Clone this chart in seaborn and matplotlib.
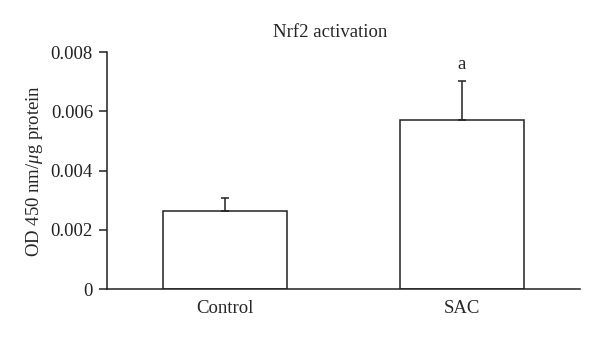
import pandas as pd
import seaborn as sns
import matplotlib.pyplot as plt

# values
groups = ['Control', 'SAC']
means = [0.00265, 0.00571]
sem = [0.00042, 0.00133]
marks = ['', 'a']

df = pd.DataFrame({'group': groups, 'od': means})

sns.set_style('ticks')
plt.rcParams['font.family'] = ['Liberation Serif', 'DejaVu Serif']
plt.rcParams['mathtext.fontset'] = 'custom'
plt.rcParams['mathtext.it'] = 'Liberation Serif:italic'
plt.rcParams['mathtext.rm'] = 'Liberation Serif'

fs = 13.5
fig = plt.figure(figsize=(6, 3.37), dpi=100)
ax = fig.add_axes([0.178, 0.142, 0.789, 0.703])

sns.barplot(data=df, x='group', y='od', color='white', edgecolor='#222222',
            linewidth=1.1, width=0.525, ax=ax)

# upper error bars only
ax.errorbar(range(len(groups)), means, yerr=[[0] * len(sem), sem], fmt='none',
            ecolor='#222222', elinewidth=1.1, capsize=2.8, capthick=1.1)

for i, (m, s, t) in enumerate(zip(means, sem, marks)):
    if t:
        ax.text(i, m + s + 0.00025, t, ha='center', va='bottom', fontsize=fs)

ax.set_xlim(-0.5, 1.5)
ax.set_ylim(0, 0.008)
ax.set_yticks([0, 0.002, 0.004, 0.006, 0.008])
ax.set_yticklabels(['0', '0.002', '0.004', '0.006', '0.008'])
ax.set_xlabel('')
ax.set_ylabel(r'OD 450 nm/$\mathit{\mu}$g protein', fontsize=fs, labelpad=4)
ax.tick_params(axis='y', length=6, width=1.1, labelsize=fs, colors='#222222', pad=4)
ax.tick_params(axis='x', length=0, labelsize=fs, pad=8)
for sp in ['left', 'bottom']:
    ax.spines[sp].set_linewidth(1.1)
    ax.spines[sp].set_color('#222222')
sns.despine(ax=ax)

fig.text(0.55, 0.905, 'Nrf2 activation', ha='center', va='center', fontsize=fs)

fig.savefig('out.png', dpi=100)
